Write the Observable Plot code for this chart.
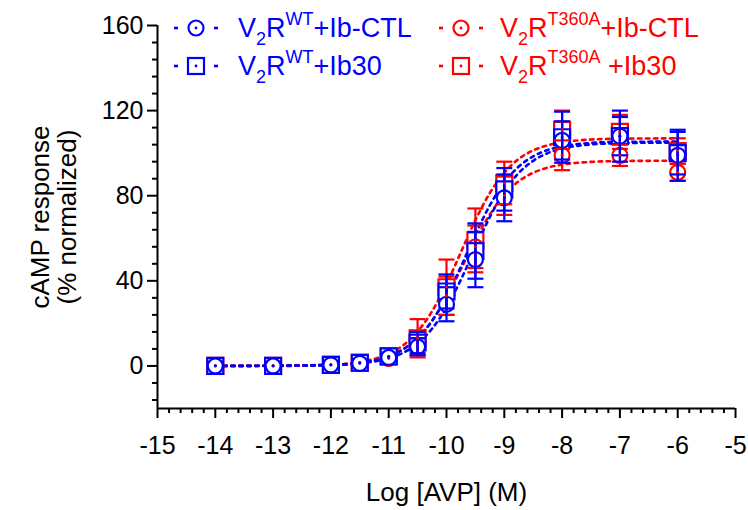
<!DOCTYPE html>
<html><head><meta charset="utf-8">
<script src="https://cdn.jsdelivr.net/npm/d3@7"></script>
<script src="https://cdn.jsdelivr.net/npm/@observablehq/plot@0.6"></script>
<style>
body{margin:0;background:#fff;font-family:Arial,"Liberation Sans",sans-serif}
#wrap{position:relative;width:748px;height:510px}
.legtxt{position:absolute;font-size:27px;line-height:27px;white-space:nowrap}
.legtxt sub,.legtxt sup{font-size:18px;vertical-align:baseline;position:relative}
.legtxt sub{top:8px}
.legtxt sup{top:-12px}
.legsym{position:absolute}
</style></head><body><div id="wrap"></div>
<script>
// ---- data ----
const doses = [-14, -13, -12, -11.5, -11, -10.5, -10, -9.5, -9, -8, -7, -6];
const wtCtlMean   = [0, 0, 0.5, 1.2, 4, 9, 29, 50, 79, 106, 108, 99];
const wtCtlSem    = [0, 0, 0, 0, 0, 4, 8, 13, 11, 9, 9, 12];
const wtIb30Mean  = [0, 0, 0.5, 1.5, 4.5, 11, 35, 54, 83, 107.5, 108, 100];
const wtIb30Sem   = [0, 0, 0, 0, 0, 5, 8, 13, 10, 12, 12, 10];
const tCtlMean    = [0, 0, 0.5, 1.5, 3.5, 9, 33, 56, 80, 99, 99, 91];
const tCtlSem     = [0, 0, 0, 0, 0, 4, 9, 10, 9, 7, 5, 4];
const tIb30Mean   = [0, 0, 0.5, 1.5, 4.5, 13, 37, 59, 86, 111, 110, 101];
const tIb30Sem    = [0, 0, 0, 0, 0, 9, 13, 15, 10, 9, 8, 6];

const fitX      = [-14, -13, -12, -11.5, -11, -10.75, -10.5, -10.25, -10, -9.75, -9.5, -9.25, -9, -8.75, -8.5, -8.25, -8, -7.5, -7, -6.5, -6];
const wtCtlFit  = [0, 0, 0.4, 1.2, 3.6, 6.2, 10.6, 17.5, 27.5, 40.6, 55.5, 70, 81.9, 90.7, 96.4, 100, 102.1, 104.1, 104.7, 104.9, 105];
const wtIb30Fit = [0, 0.1, 0.5, 1.5, 4.5, 7.8, 13.1, 21.2, 32.6, 46.7, 61.8, 75.5, 86.2, 93.7, 98.5, 101.5, 103.2, 104.8, 105.3, 105.4, 105.5];
const tCtlFit   = [0, 0.1, 0.5, 1.5, 4.6, 7.9, 13.2, 21.2, 32.2, 45.5, 59.2, 71.2, 80.4, 86.8, 90.8, 93.2, 94.6, 95.9, 96.3, 96.4, 96.5];
const tIb30Fit  = [0, 0.1, 0.6, 1.9, 5.7, 9.7, 16.2, 25.7, 38.5, 53.5, 68.5, 81.3, 90.8, 97.3, 101.3, 103.7, 105.1, 106.4, 106.8, 106.9, 107];

const xTicks = [-15, -14, -13, -12, -11, -10, -9, -8, -7, -6, -5];
const yTicks = [0, 40, 80, 120, 160];
const xLabel = "Log [AVP] (M)";
const yLabel = "cAMP response\n(% normalized)";

const BLUE = "#0000ff", RED = "#ff0000";
const series = [
  {name: "tIb30", mean: tIb30Mean, sem: tIb30Sem, fit: tIb30Fit, color: RED, symbol: "square"},
  {name: "tCtl", mean: tCtlMean, sem: tCtlSem, fit: tCtlFit, color: RED, symbol: "circle"},
  {name: "wtIb30", mean: wtIb30Mean, sem: wtIb30Sem, fit: wtIb30Fit, color: BLUE, symbol: "square"},
  {name: "wtCtl", mean: wtCtlMean, sem: wtCtlSem, fit: wtCtlFit, color: BLUE, symbol: "circle"}
];

const xMinor = d3.range(-150, -49, 2).map(v => v / 10).filter(v => !Number.isInteger(v));
const yMinor = d3.range(-16, 160, 8).filter(v => v % 40 !== 0);

const capSymbol = {draw(ctx, size) { const w = Math.sqrt(size / Math.PI); ctx.moveTo(-w, 0); ctx.lineTo(w, 0); }};

const marks = [];
for (const s of series) {
  const rows = fitX.map((x, i) => ({x, y: s.fit[i]}));
  marks.push(Plot.line(rows, {x: "x", y: "y", stroke: s.color, strokeWidth: 2.6, strokeDasharray: "3.5,4.5", curve: "monotone-x"}));
}
for (const s of series) {
  const rows = doses.map((x, i) => ({x, y: s.mean[i]}));
  marks.push(Plot.dot(rows, {x: "x", y: "y", symbol: s.symbol, r: s.symbol === "square" ? 9 : 7.5, stroke: s.color, fill: "white", strokeWidth: 2.2}));
}
for (const s of series) {
  const rows = doses.map((x, i) => ({x, y: s.mean[i], e: s.sem[i]})).filter(d => d.e > 0);
  marks.push(Plot.ruleX(rows, {x: "x", y1: d => d.y - d.e, y2: d => d.y + d.e, stroke: s.color, strokeWidth: 2.2}));
  marks.push(Plot.dot(rows, {x: "x", y: d => d.y + d.e, symbol: capSymbol, r: 8, stroke: s.color, strokeWidth: 2.2, fill: "none"}));
  marks.push(Plot.dot(rows, {x: "x", y: d => d.y - d.e, symbol: capSymbol, r: 8, stroke: s.color, strokeWidth: 2.2, fill: "none"}));
}
for (const s of series) {
  const rows = doses.map((x, i) => ({x, y: s.mean[i]}));
  marks.push(Plot.dot(rows, {x: "x", y: "y", r: 1.4, fill: s.color, stroke: "none"}));
}

const chart = Plot.plot({
  width: 748, height: 510,
  marginLeft: 157, marginRight: 13, marginTop: 25, marginBottom: 102,
  x: {domain: [-15, -5]},
  y: {domain: [-20, 160]},
  style: {fontFamily: "Arial, 'Liberation Sans', sans-serif", background: "white", color: "black", overflow: "visible"},
  marks: [
    ...marks,
    Plot.axisX(xTicks, {label: null, tickSize: 10, tickPadding: 18, fontSize: 25, strokeWidth: 2, tickFormat: d => String(d)}),
    Plot.axisX(xMinor, {label: null, tickSize: 5, strokeWidth: 2, tickFormat: () => ""}),
    Plot.axisY(yTicks, {label: null, tickSize: 10, tickPadding: 4, fontSize: 25, strokeWidth: 2, tickFormat: d => String(d)}),
    Plot.axisY(yMinor, {label: null, tickSize: 5, strokeWidth: 2, tickFormat: () => ""}),
    Plot.ruleX([-15], {stroke: "black", strokeWidth: 2}),
    Plot.ruleY([-20], {stroke: "black", strokeWidth: 2}),
    Plot.text([xLabel], {text: d => d, frameAnchor: "bottom", dy: 84, fontSize: 26, textAnchor: "middle", lineAnchor: "middle"}),
    Plot.text([yLabel], {text: d => d, frameAnchor: "left", dx: -104, rotate: -90, fontSize: 26, textAnchor: "middle", lineAnchor: "middle", lineHeight: 1.05})
  ]
});
const wrap = document.getElementById("wrap");
wrap.appendChild(chart);

const legend = [
  {html: "V<sub>2</sub>R<sup>WT</sup>+Ib-CTL", color: BLUE, symbol: "circle", sx: 196, tx: 238, y: 28},
  {html: "V<sub>2</sub>R<sup>WT</sup>+Ib30", color: BLUE, symbol: "square", sx: 196, tx: 238, y: 66},
  {html: "V<sub>2</sub>R<sup>T360A</sup>+Ib-CTL", color: RED, symbol: "circle", sx: 461, tx: 500, y: 28},
  {html: "V<sub>2</sub>R<sup>T360A</sup> +Ib30", color: RED, symbol: "square", sx: 461, tx: 500, y: 66}
];
for (const L of legend) {
  const svg = d3.create("svg").attr("class", "legsym").attr("width", 52).attr("height", 24)
    .style("left", (L.sx - 26) + "px").style("top", (L.y - 12) + "px");
  svg.append("line").attr("x1", 4).attr("x2", 8).attr("y1", 12).attr("y2", 12).attr("stroke", L.color).attr("stroke-width", 2.6);
  svg.append("line").attr("x1", 44).attr("x2", 48).attr("y1", 12).attr("y2", 12).attr("stroke", L.color).attr("stroke-width", 2.6);
  if (L.symbol === "circle") svg.append("circle").attr("cx", 26).attr("cy", 12).attr("r", 7.5).attr("fill", "white").attr("stroke", L.color).attr("stroke-width", 2.2);
  else svg.append("rect").attr("x", 18).attr("y", 4).attr("width", 16).attr("height", 16).attr("fill", "white").attr("stroke", L.color).attr("stroke-width", 2.2);
  svg.append("circle").attr("cx", 26).attr("cy", 12).attr("r", 1.4).attr("fill", L.color);
  wrap.appendChild(svg.node());
  const t = document.createElement("div");
  t.className = "legtxt";
  t.style.left = L.tx + "px";
  t.style.top = (L.y - 13.5) + "px";
  t.style.color = L.color;
  t.innerHTML = L.html;
  wrap.appendChild(t);
}
</script></body></html>
